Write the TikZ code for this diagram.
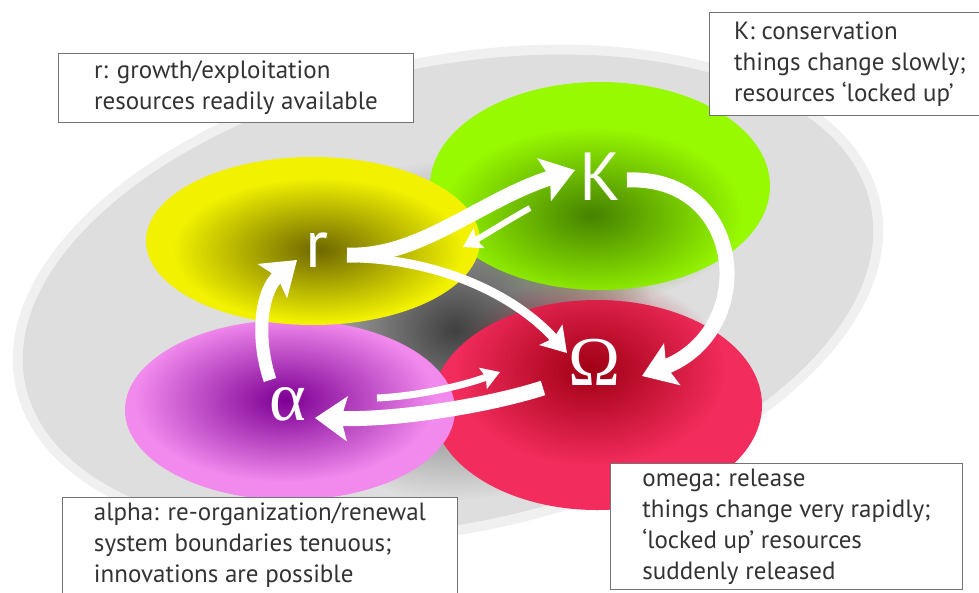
\documentclass[tikz,border=0pt]{standalone}
\usepackage{fontspec}
\setmainfont{PT Sans}
\newfontfamily\greekfont{Liberation Serif}
\usetikzlibrary{arrows.meta,calc,fadings}

\definecolor{yellowbright}{RGB}{242,242,0}
\definecolor{yellowdark}{RGB}{110,104,0}
\definecolor{greenbright}{RGB}{152,250,0}
\definecolor{greendark}{RGB}{70,130,0}
\definecolor{redbright}{RGB}{242,44,92}
\definecolor{reddark}{RGB}{160,0,20}
\definecolor{pinkbright}{RGB}{242,138,238}
\definecolor{pinkdark}{RGB}{125,0,148}

\tikzfading[name=corefade, inner color=transparent!0, outer color=transparent!100]

\tikzset{
  note/.style={draw=black!55, line width=1pt, fill=white, align=left, text=black!80,
    font=\fontsize{25}{31}\selectfont, anchor=north west},
  phase/.style={text=white, inner sep=0pt, font=\fontsize{68}{68}\selectfont},
  greekphase/.style={phase, font=\greekfont\fontsize{70}{70}\selectfont},
  fatarrow/.style={white, line width=15pt, -{Stealth[length=32pt,width=44pt,inset=6pt]}},
  midarrow/.style={white, line width=9pt, -{Stealth[length=24pt,width=30pt,inset=4pt]}},
  slimarrow/.style={white, line width=6pt, -{Stealth[length=18pt,width=22pt,inset=3pt]}}
}

\begin{document}
\begin{tikzpicture}[x=1pt,y=-1pt]
  \path[use as bounding box, fill=white] (0,0) rectangle (979,592);

  % grey backdrop and shadow
  \fill[black!6, rotate around={12:(448,295)}] (448,295) ellipse [x radius=442pt, y radius=238pt];
  \fill[black!13, rotate around={12:(448,295)}] (448,295) ellipse [x radius=432pt, y radius=228pt];
  \fill[black!75, path fading=corefade] (455,330) ellipse [x radius=200pt, y radius=170pt];

  % the four phases
  \fill[redbright] (597,405) ellipse [x radius=165pt, y radius=105pt];
  \fill[reddark, path fading=corefade] (590,370) ellipse [x radius=135pt, y radius=95pt];
  \fill[greenbright] (600,186) ellipse [x radius=170pt, y radius=104pt];
  \fill[greendark, path fading=corefade] (592,215) ellipse [x radius=150pt, y radius=88pt];
  \fill[pinkbright] (290,410) ellipse [x radius=165pt, y radius=90pt];
  \fill[pinkdark, path fading=corefade] (285,400) ellipse [x radius=150pt, y radius=82pt];
  \fill[yellowbright] (313,241) ellipse [x radius=167pt, y radius=84pt];
  \fill[yellowdark, path fading=corefade] (318,250) ellipse [x radius=145pt, y radius=72pt];

  \node[phase] (r) at (317,250) {r};
  \node[phase] (K) at (600,177) {K};
  \node[greekphase] (O) at (595,362) {Ω};
  \node[greekphase] (a) at (288,404) {α};

  % cycle
  \draw[fatarrow] ($(r)+(30,5)$) .. controls (420,258) and (480,200) .. ($(K)+(-25,-7)$);
  \draw[slimarrow] ($(K)+(-70,31)$) .. controls (505,222) and (485,235) .. ($(r)+(146,-3)$);
  \draw[midarrow] ($(r)+(43,8)$) .. controls (450,262) and (520,300) .. ($(O)+(-28,-9)$);
  \draw[fatarrow] ($(K)+(27,3)$) .. controls (745,175) and (760,330) .. ($(O)+(47,14)$);
  \draw[fatarrow] ($(O)+(-52,26)$) .. controls (490,405) and (400,420) .. ($(a)+(27,14)$);
  \draw[slimarrow, line width=7pt] ($(a)+(89,-6)$) .. controls (420,396) and (465,385) .. ($(O)+(-95,10)$);
  \draw[fatarrow, line width=13pt] ($(a)+(-18,-24)$) .. controls (255,335) and (262,290) .. ($(r)+(-20,10)$);

  % notes
  \node[note, minimum width=355pt, minimum height=69pt] (rnote) at (58,53)
    {r: growth/exploitation\\resources readily available};
  \node[note, minimum width=281pt, minimum height=103pt] (Knote) at (709,12)
    {K: conservation\\things change slowly;\\resources ‘locked up’};
  \node[note, minimum width=352pt, minimum height=126pt] (Onote) at (610,463)
    {omega: release\\things change very rapidly;\\‘locked up’ resources\\suddenly released};
  \node[note, minimum width=395pt, minimum height=96pt] (anote) at (62,497)
    {alpha: re-organization/renewal\\system boundaries tenuous;\\innovations are possible};
\end{tikzpicture}
\end{document}
